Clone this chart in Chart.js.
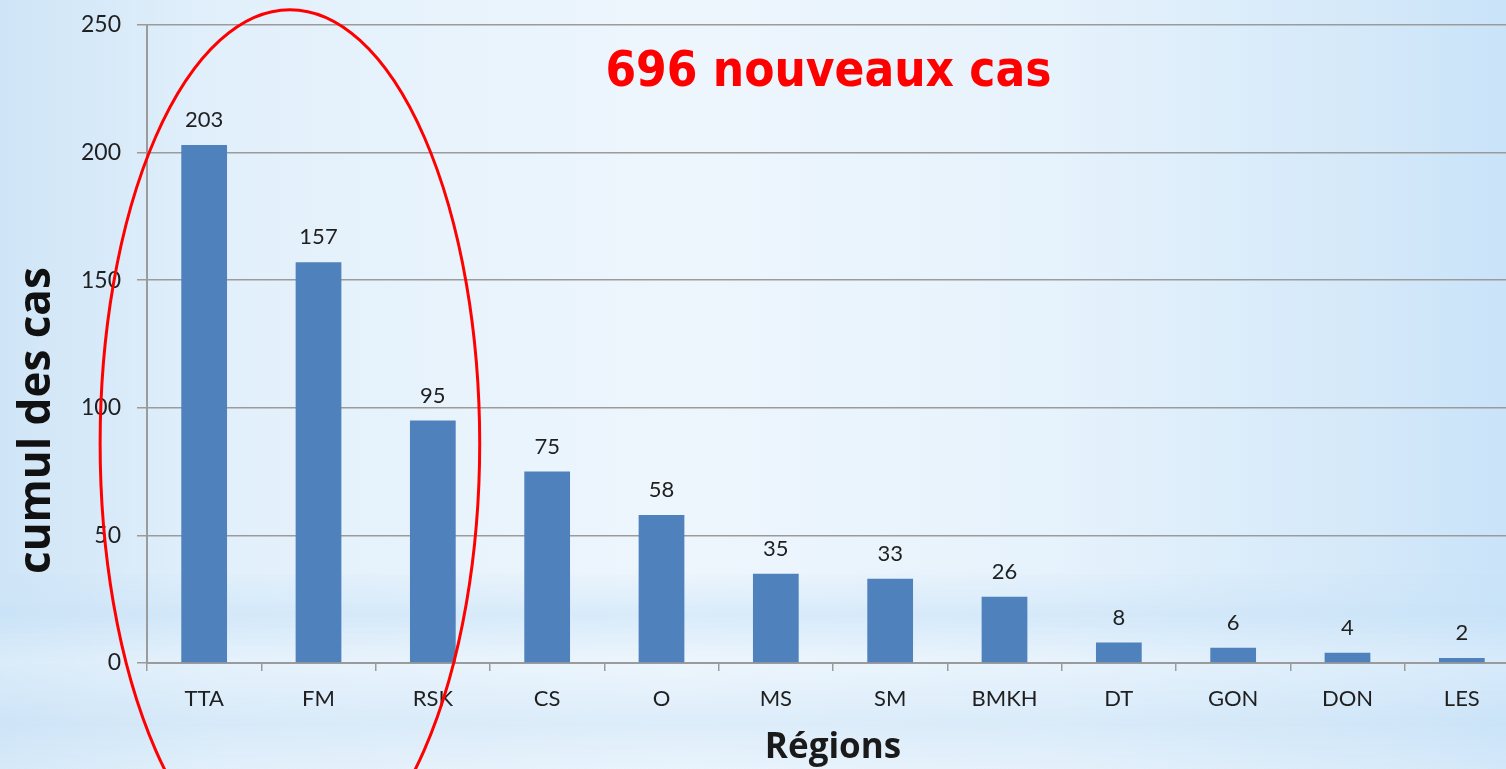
<!DOCTYPE html>
<html>
<head>
<meta charset="utf-8">
<script src="https://cdn.jsdelivr.net/npm/chart.js@4"></script>
<style>
  html, body {
    margin: 0;
    padding: 0;
    width: 1506px;
    height: 769px;
    overflow: hidden;
  }
  body {
    background:
      linear-gradient(to bottom, rgba(255,255,255,0) 0%, rgba(255,255,255,0) 74%, rgba(200,226,247,0.55) 80%, rgba(235,245,253,0.4) 86%, rgba(205,228,247,0.5) 94%, rgba(225,239,251,0.4) 100%),
      linear-gradient(to right, #cfe5f7 0%, #e2f0fb 15%, #eef6fd 45%, #e6f2fc 70%, #d3e8f9 92%, #c9e3f9 100%);
  }
  #wrap {
    position: absolute;
    left: 0;
    top: 0;
    width: 1520px;
    height: 769px;
  }
</style>
</head>
<body>
<div id="wrap"><canvas id="graficoRegions"></canvas></div>
<script>
// donnees
const regions = ['TTA', 'FM', 'RSK', 'CS', 'O', 'MS', 'SM', 'BMKH', 'DT', 'GON', 'DON', 'LES'];
const cumulCas = [203, 157, 95, 75, 58, 35, 33, 26, 8, 6, 4, 2];
const graduationsY = [0, 50, 100, 150, 200, 250];
const titreTexte = '696 nouveaux cas';
const titreAxeY = 'cumul des cas';

// etiquettes de valeur au dessus des barres
const etiquettesBarres = {
  id: 'etiquettesBarres',
  afterDatasetsDraw(chart) {
    const ctx = chart.ctx;
    ctx.save();
    ctx.font = '22px Lato';
    ctx.fillStyle = '#1f1f1f';
    ctx.textAlign = 'center';
    ctx.textBaseline = 'middle';
    chart.getDatasetMeta(0).data.forEach((bar, i) => {
      ctx.fillText(cumulCas[i], bar.x, bar.y - 25);
    });
    ctx.restore();
  }
};

// texte rouge, titre de l'axe Y (decale vers le bas) + ellipse
const annotations = {
  id: 'annotations',
  afterDraw(chart) {
    const ctx = chart.ctx;
    const x = chart.scales.x;
    const y = chart.scales.y;
    ctx.save();
    ctx.font = 'bold 49px "DejaVu Sans Condensed", "DejaVu Sans"';
    ctx.fillStyle = '#ff0000';
    ctx.textAlign = 'center';
    ctx.textBaseline = 'alphabetic';
    ctx.fillText(titreTexte, x.getPixelForValue(5.46), y.getPixelForValue(226));

    // titre axe Y
    ctx.save();
    ctx.translate(37, y.getPixelForValue(95));
    ctx.rotate(-Math.PI / 2);
    ctx.font = 'bold 44px "Open Sans"';
    ctx.fillStyle = '#111111';
    ctx.textAlign = 'center';
    ctx.textBaseline = 'middle';
    ctx.fillText(titreAxeY, 0, 0);
    ctx.restore();

    const cx = x.getPixelForValue(0.75);
    const cy = y.getPixelForValue(86);
    const rx = x.getPixelForValue(0.75 + 1.66) - cx;
    const ry = y.getPixelForValue(0) - y.getPixelForValue(170);
    ctx.beginPath();
    ctx.ellipse(cx, cy, rx, ry, 0, 0, Math.PI * 2);
    ctx.strokeStyle = '#ff0000';
    ctx.lineWidth = 3;
    ctx.stroke();
    ctx.restore();
  }
};

new Chart(document.getElementById('graficoRegions'), {
  type: 'bar',
  data: {
    labels: regions,
    datasets: [{
      label: 'cumul des cas',
      data: cumulCas,
      backgroundColor: '#4f81bd',
      borderWidth: 0,
      barPercentage: 0.4,
      categoryPercentage: 1
    }]
  },
  options: {
    responsive: true,
    maintainAspectRatio: false,
    animation: false,
    layout: { padding: { top: 25, right: 1, left: 0, bottom: 0 } },
    plugins: {
      legend: { display: false },
      tooltip: { enabled: false }
    },
    scales: {
      x: {
        offset: true,
        grid: {
          display: true,
          drawOnChartArea: false,
          drawTicks: true,
          tickLength: 8,
          offset: true,
          color: '#9b9b9b',
          lineWidth: 1.5
        },
        border: { color: '#9b9b9b', width: 2 },
        ticks: {
          color: '#1f1f1f',
          font: { family: 'Lato', size: 22 },
          padding: 15,
          maxRotation: 0
        },
        title: {
          display: true,
          text: 'Régions',
          color: '#1a1a1a',
          font: { family: 'Open Sans', size: 35, weight: 'bold' },
          padding: { top: 0, bottom: 0 }
        },
        afterFit(scale) { scale.height = 106; }
      },
      y: {
        min: 0,
        max: 250,
        afterBuildTicks(scale) {
          scale.ticks = graduationsY.map(v => ({ value: v }));
        },
        grid: {
          color: '#9b9b9b',
          lineWidth: 1.5,
          tickLength: 10
        },
        border: { color: '#9b9b9b', width: 2 },
        ticks: {
          color: '#1f1f1f',
          font: { family: 'Lato', size: 23, lineHeight: 0.75 },
          padding: 16
        },
        afterFit(scale) { scale.width = 147; }
      }
    }
  },
  plugins: [etiquettesBarres, annotations]
});
</script>
</body>
</html>
